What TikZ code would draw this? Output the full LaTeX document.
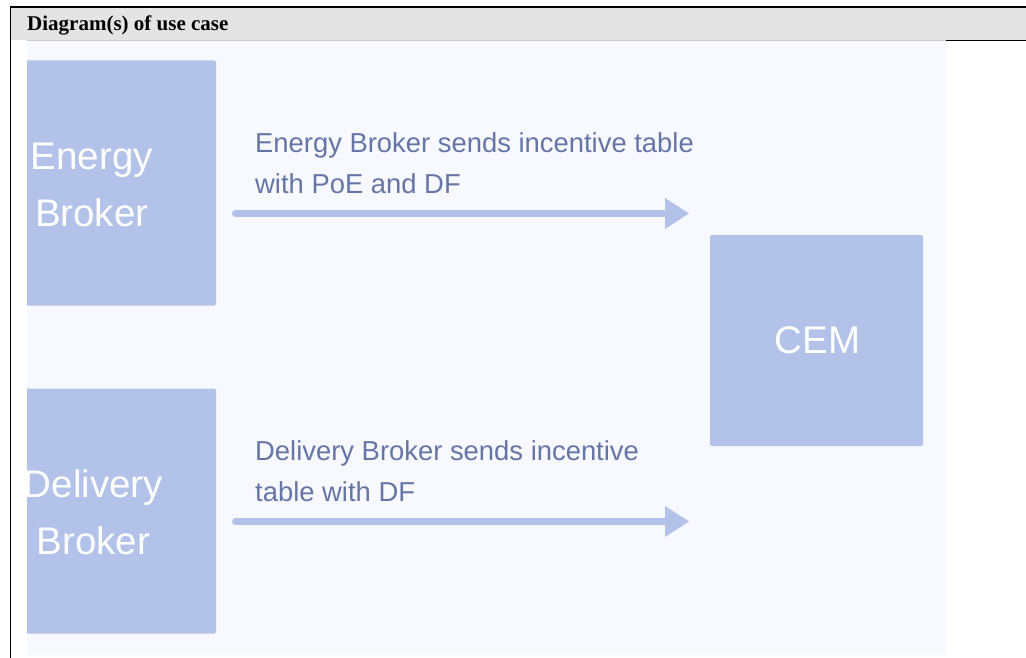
\documentclass[tikz,border=0pt]{standalone}
\usepackage{fontspec}
\setmainfont{Liberation Serif}
\newfontfamily\diafont{Liberation Sans}
\usetikzlibrary{arrows.meta}
\definecolor{boxfill}{HTML}{B3C2E9}
\definecolor{imgbg}{HTML}{F8F9FE}
\definecolor{hdrgray}{HTML}{E4E4E4}
\definecolor{lbltext}{HTML}{6575A6}
\tikzset{
  box/.style={draw=none, fill=boxfill, rounded corners=2pt, inner sep=0pt},
  boxtext/.style={text=white, font=\diafont\fontsize{38.5}{57}\selectfont, align=center, inner sep=0pt, anchor=base},
  lbl/.style={text=lbltext, font=\diafont\fontsize{27.4}{41}\selectfont, align=left, inner sep=0pt, anchor=base west},
  flow/.style={draw=boxfill, line width=7pt, line cap=round, -{Triangle[length=24pt,width=31pt,line width=0pt]}},
  rule/.style={draw=black, line width=1.3pt}
}
\begin{document}
\begin{tikzpicture}[x=1pt,y=-1pt]
\useasboundingbox (0,0) rectangle (1026,658);
\fill[white] (0,0) rectangle (1026,658);
% header
\fill[hdrgray] (10,7) rectangle (1026,40.5);
\node[anchor=base west, inner sep=0pt, font=\bfseries\fontsize{21}{24}\selectfont] (hdr) at (27,31) {Diagram(s) of use case};
% image region
\fill[imgbg] (27,41) rectangle (946,655);
\draw[draw=black!20, line width=0.8pt] (27,40.5) -- (946,40.5);
\draw[rule] (946,40.5) -- (1026,40.5);
\draw[rule] (10,7) -- (1026,7);
\draw[rule] (10.5,7) -- (10.5,658);
\begin{scope}
\clip (27,41) rectangle (946,655);
\node[box, minimum width=230pt, minimum height=245pt] (eb) at (101,183) {};
\node[box, minimum width=230pt, minimum height=245pt] (db) at (101,511) {};
\node[boxtext] (ebt) at (91.7,226) {Energy\\Broker};
\node[boxtext] (dbt) at (93.5,554) {Delivery\\Broker};
\end{scope}
\node[box, minimum width=213pt, minimum height=211pt] (cem) at (816.5,340.5) {};
\node[boxtext, anchor=base] (cemt) at (817.5,353) {CEM};
% labels
\node[lbl] (l1) at (255,193.3) {Energy Broker sends incentive table\\with PoE and DF};
\node[lbl] (l2) at (255,501.3) {Delivery Broker sends incentive\\table with DF};
% arrows
\coordinate (a1s) at (235.5,213.5);
\coordinate (a1e) at (689,213.5);
\coordinate (a2s) at (235.5,521.5);
\coordinate (a2e) at (689,521.5);
\draw[flow] (a1s) -- (a1e);
\draw[flow] (a2s) -- (a2e);
\end{tikzpicture}
\end{document}
